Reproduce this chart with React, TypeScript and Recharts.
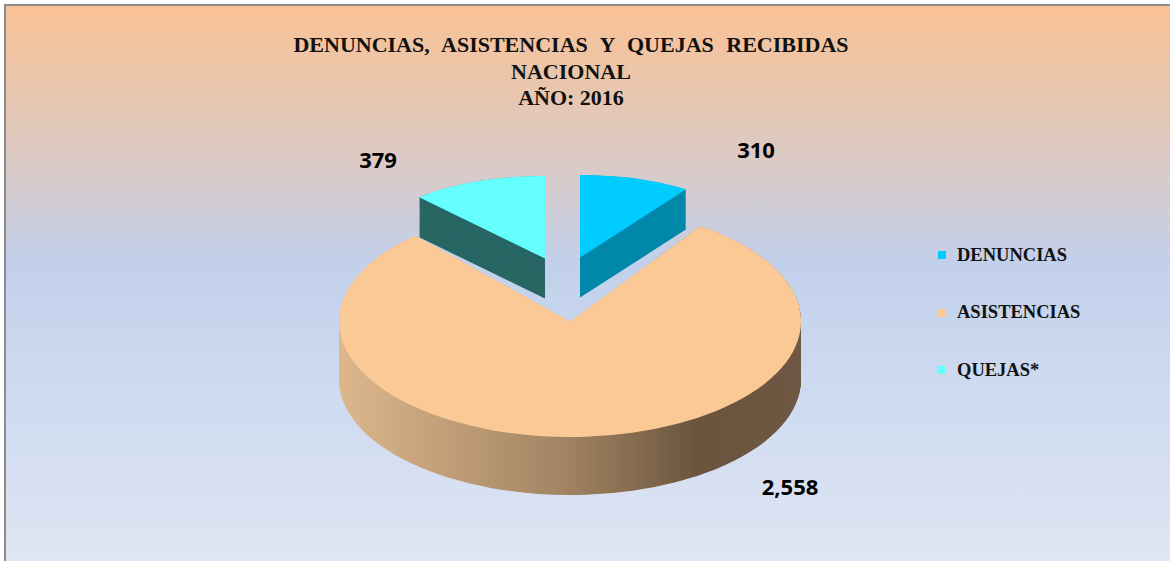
import React from 'react';
import { PieChart, Pie, Cell } from 'recharts';

const categories = ['DENUNCIAS', 'ASISTENCIAS', 'QUEJAS*'];
const values = [310, 2558, 379];
const topColors = ['#00CCFF', '#FAC995', '#66FFFF'];
const sideColors = ['#0088AA', 'url(#asisSide)', '#286764'];

const data = categories.map((name, i) => ({ name, value: values[i] }));
const total = values.reduce((a, b) => a + b, 0);

// fake 3D: centre of the whole pie on screen, then each slice pulled out along its mid angle
const BASE = { x: 564, y: 280.5 };
const sliceGeo = [
  { explode: 53.5, r: 188, k: 0.44, depth: 40 },
  { explode: 83, r: 231, k: 0.5, depth: 58 },
  { explode: 53.5, r: 188, k: 0.44, depth: 40 },
];
const labelPos = [
  { x: 756, y: 149 },
  { x: 790, y: 486 },
  { x: 378, y: 159 },
];

const PAD = 2;

function Slice({ index }: { index: number }) {
  const g = sliceGeo[index];
  const before = values.slice(0, index).reduce((a, b) => a + b, 0);
  const mid = ((before + values[index] / 2) / total) * 2 * Math.PI;
  const sx = BASE.x + g.explode * Math.sin(mid);
  const sy = BASE.y - g.explode * g.k * Math.cos(mid);

  const depthSvg = g.depth / g.k;
  const w = 2 * g.r + 2 * PAD;
  const h = 2 * g.r + depthSvg + 2 * PAD;
  const cx = g.r + PAD;
  const cy = g.r + PAD;

  const layers: number[] = [];
  for (let d = depthSvg; d > 0; d -= 1.5) layers.push(d);

  return (
    <div
      style={{
        position: 'absolute',
        left: sx - cx,
        top: sy - cy * g.k,
        width: w,
        height: h,
        transform: `scaleY(${g.k})`,
        transformOrigin: '0 0',
      }}
    >
      <PieChart width={w} height={h} margin={{ top: 0, right: 0, bottom: 0, left: 0 }}>
        {layers.map((d, li) => (
          <Pie
            key={'side' + li}
            data={data}
            dataKey="value"
            nameKey="name"
            cx={cx}
            cy={cy + d}
            innerRadius={0}
            outerRadius={g.r}
            startAngle={90}
            endAngle={-270}
            stroke="none"
            isAnimationActive={false}
          >
            {data.map((_, j) => (
              <Cell key={j} fill={j === index ? sideColors[index] : 'transparent'} stroke="none" />
            ))}
          </Pie>
        ))}
        <Pie
          data={data}
          dataKey="value"
          nameKey="name"
          cx={cx}
          cy={cy}
          innerRadius={0}
          outerRadius={g.r}
          startAngle={90}
          endAngle={-270}
          stroke="none"
          isAnimationActive={false}
        >
          {data.map((_, j) => (
            <Cell key={j} fill={j === index ? topColors[index] : 'transparent'} stroke="none" />
          ))}
        </Pie>
      </PieChart>
    </div>
  );
}

export default function App() {
  const asis = sliceGeo[1];
  return (
    <div
      style={{
        position: 'absolute',
        left: 0,
        top: 0,
        width: 1170,
        height: 561,
        overflow: 'hidden',
        background: '#ffffff',
      }}
    >
      <svg width={0} height={0} style={{ position: 'absolute' }}>
        <defs>
          <linearGradient id="asisSide" gradientUnits="userSpaceOnUse" x1={PAD} y1={0} x2={PAD + 2 * asis.r} y2={0}>
            <stop offset="0%" stopColor="#DDB78C" />
            <stop offset="50%" stopColor="#A08262" />
            <stop offset="78%" stopColor="#6A543D" />
            <stop offset="100%" stopColor="#6E5843" />
          </linearGradient>
        </defs>
      </svg>
      <div
        style={{
          position: 'absolute',
          left: 4,
          top: 4,
          width: 1170,
          height: 561,
          borderLeft: '2px solid #8C8C8C',
          borderTop: '2px solid #8C8C8C',
          background: 'linear-gradient(to bottom, #F9C295 0%, #DCCAC4 27%, #C2D0EB 46%, #CCD9EF 65%, #DFE6F4 100%)',
        }}
      />

      <div
        style={{
          position: 'absolute',
          left: 271,
          top: 32.3,
          width: 600,
          textAlign: 'center',
          fontFamily: '"Liberation Serif", "Times New Roman", serif',
          fontWeight: 700,
          fontSize: 22,
          lineHeight: '26.5px',
          color: '#111',
          whiteSpace: 'pre',
        }}
      >
        <div style={{ wordSpacing: 7 }}>{'DENUNCIAS, ASISTENCIAS Y QUEJAS RECIBIDAS'}</div>
        <div>NACIONAL</div>
        <div>AÑO: 2016</div>
      </div>

      {[0, 2, 1].map((i) => (
        <Slice key={i} index={i} />
      ))}

      {values.map((v, i) => (
        <div
          key={i}
          style={{
            position: 'absolute',
            left: labelPos[i].x - 60,
            top: labelPos[i].y - 15,
            width: 120,
            height: 30,
            lineHeight: '30px',
            textAlign: 'center',
            fontFamily: '"Open Sans", sans-serif',
            fontWeight: 700,
            fontSize: 22,
            color: '#000',
          }}
        >
          {v.toLocaleString('en-US')}
        </div>
      ))}

      <div style={{ position: 'absolute', left: 938, top: 241 }}>
        {categories.map((c, i) => (
          <div key={c} style={{ display: 'flex', alignItems: 'center', height: 28, marginBottom: 29.5 }}>
            <div style={{ width: 8, height: 8, background: topColors[i], marginRight: 11 }} />
            <span
              style={{
                fontFamily: '"Liberation Serif", "Times New Roman", serif',
                fontWeight: 700,
                fontSize: 18.5,
                color: '#111',
              }}
            >
              {c}
            </span>
          </div>
        ))}
      </div>
    </div>
  );
}
